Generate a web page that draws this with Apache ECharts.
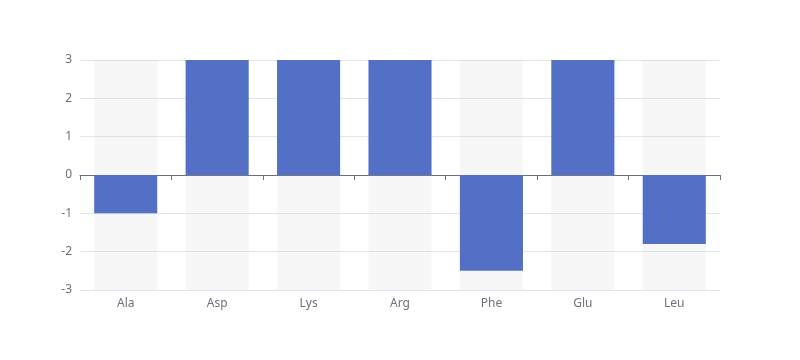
<!DOCTYPE html>
<html>
<head>
<meta charset="utf-8">
<script src="https://cdn.jsdelivr.net/npm/echarts@6/dist/echarts.min.js"></script>
<style>html,body{margin:0;padding:0;background:#fff}#c{width:800px;height:360px}</style>
</head>
<body>
<div id="c"></div>
<script>
var categories = ['Ala', 'Asp', 'Lys', 'Arg', 'Phe', 'Glu', 'Leu'];
var values = [-1, 4, 4, 4, -2.5, 4, -1.8];
var yMin = -3, yMax = 3, yInterval = 1;

var chart = echarts.init(document.getElementById('c'), null, {renderer: 'canvas'});
chart.setOption({
  animation: false,
  textStyle: {fontFamily: 'Noto Sans'},
  grid: {left: 80, right: 80, top: 60, bottom: 70, containLabel: false},
  xAxis: {
    type: 'category',
    data: categories,
    axisLine: {onZero: true, lineStyle: {color: '#6E7079'}},
    axisTick: {show: true, alignWithLabel: false, lineStyle: {color: '#6E7079'}},
    axisLabel: {color: '#6E7079', fontFamily: 'Noto Sans'}
  },
  yAxis: {
    type: 'value',
    min: yMin,
    max: yMax,
    interval: yInterval,
    axisLabel: {color: '#6E7079', fontFamily: 'Noto Sans'},
    splitLine: {lineStyle: {color: '#E0E6F1'}}
  },
  series: [{
    type: 'bar',
    data: values,
    barWidth: '69%',
    showBackground: true,
    backgroundStyle: {color: 'rgba(180,180,180,0.1)'},
    itemStyle: {color: '#5470c6'}
  }]
});
</script>
</body>
</html>
